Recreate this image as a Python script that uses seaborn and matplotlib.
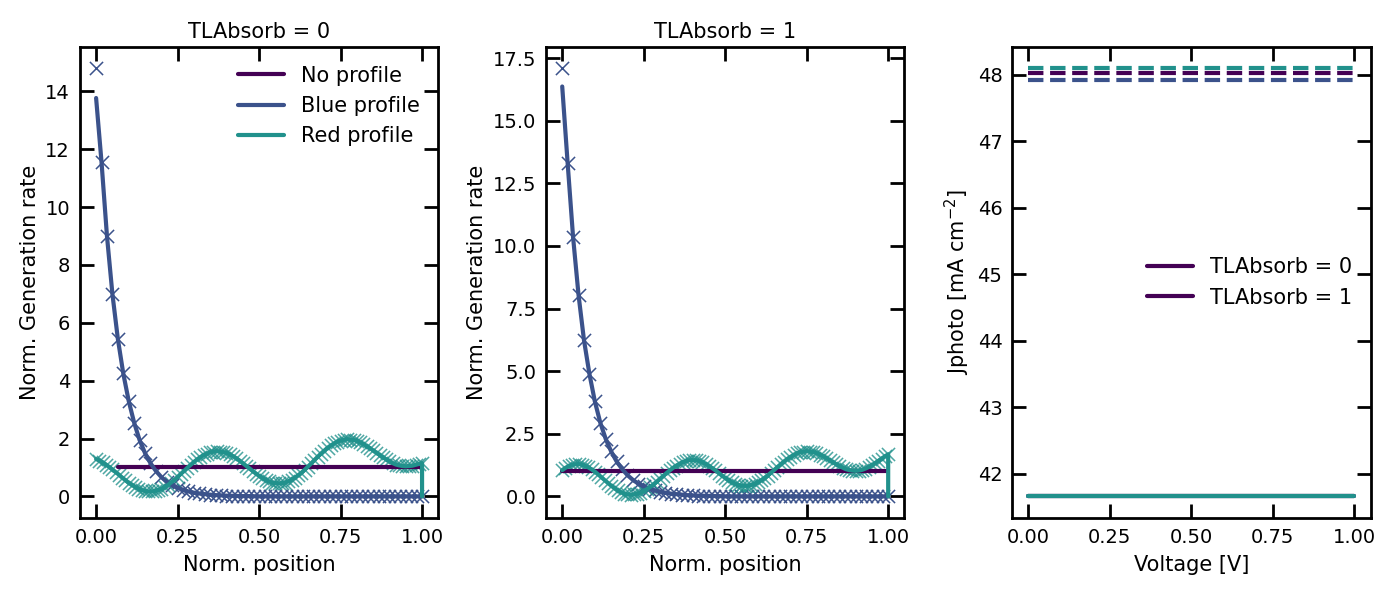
import numpy as np
import matplotlib.pyplot as plt
import seaborn as sns
from matplotlib.lines import Line2D

sns.set_style('ticks')
plt.rcParams['font.family'] = ['DejaVu Sans']
plt.rcParams['font.size'] = 14
for key in ['text.color', 'axes.labelcolor', 'xtick.color', 'ytick.color', 'axes.edgecolor']:
    plt.rcParams[key] = 'black'

colors = ['#440154', '#3b528b', '#21918c']
profile_names = ['No profile', 'Blue profile', 'Red profile']

# positions of the input profiles (uniform grids)
pos_blue = np.linspace(0, 1, 61)
pos_red = np.linspace(0, 1, 101)

# TLAbsorb = 0 : input blue profile (markers) and simulated profile (line)
blue_gen_0 = [14.8, 11.55, 9.0, 7.0, 5.45, 4.25, 3.3, 2.55, 1.95, 1.5,
              1.15, 0.88, 0.67, 0.51, 0.39, 0.3, 0.23, 0.17, 0.13, 0.1,
              0.08, 0.06, 0.045, 0.035, 0.025, 0.02, 0.015, 0.01, 0.01, 0.005,
              0.0, 0.0, 0.0, 0.0, 0.0, 0.0, 0.0, 0.0, 0.0, 0.0,
              0.0, 0.0, 0.0, 0.0, 0.0, 0.0, 0.0, 0.0, 0.0, 0.0,
              0.0, 0.0, 0.0, 0.0, 0.0, 0.0, 0.0, 0.0, 0.0, 0.0, 0.0]
blue_line_0 = [13.77, 11.55, 9.0, 7.0, 5.45, 4.25, 3.3, 2.55, 1.95, 1.5,
               1.15, 0.88, 0.67, 0.51, 0.39, 0.3, 0.23, 0.17, 0.13, 0.1,
               0.08, 0.06, 0.045, 0.035, 0.025, 0.02, 0.015, 0.01, 0.01, 0.005,
               0.0, 0.0, 0.0, 0.0, 0.0, 0.0, 0.0, 0.0, 0.0, 0.0,
               0.0, 0.0, 0.0, 0.0, 0.0, 0.0, 0.0, 0.0, 0.0, 0.0,
               0.0, 0.0, 0.0, 0.0, 0.0, 0.0, 0.0, 0.0, 0.0, 0.0, 0.0]
red_gen_0 = [1.29, 1.24, 1.18, 1.10, 1.02, 0.93, 0.84, 0.75, 0.65, 0.56,
             0.47, 0.40, 0.33, 0.27, 0.22, 0.19, 0.17, 0.17, 0.19, 0.22,
             0.26, 0.32, 0.39, 0.48, 0.57, 0.67, 0.78, 0.88, 0.99, 1.09,
             1.19, 1.28, 1.36, 1.43, 1.48, 1.52, 1.55, 1.56, 1.55, 1.53,
             1.50, 1.45, 1.39, 1.32, 1.24, 1.15, 1.06, 0.97, 0.88, 0.79,
             0.71, 0.64, 0.57, 0.52, 0.48, 0.46, 0.45, 0.46, 0.48, 0.52,
             0.58, 0.65, 0.73, 0.82, 0.92, 1.03, 1.14, 1.26, 1.37, 1.48,
             1.58, 1.68, 1.76, 1.83, 1.89, 1.93, 1.96, 1.97, 1.96, 1.95,
             1.91, 1.87, 1.81, 1.74, 1.67, 1.59, 1.51, 1.43, 1.35, 1.28,
             1.21, 1.15, 1.10, 1.07, 1.05, 1.04, 1.05, 1.06, 1.09, 1.12, 1.15]
no_x_0 = [0.067, 1.0]

# TLAbsorb = 1
blue_gen_1 = [17.1, 13.3, 10.35, 8.05, 6.25, 4.9, 3.8, 2.95, 2.3, 1.8,
              1.4, 1.1, 0.85, 0.66, 0.51, 0.4, 0.31, 0.24, 0.19, 0.15,
              0.11, 0.09, 0.07, 0.05, 0.04, 0.03, 0.025, 0.02, 0.015, 0.01,
              0.0, 0.0, 0.0, 0.0, 0.0, 0.0, 0.0, 0.0, 0.0, 0.0,
              0.0, 0.0, 0.0, 0.0, 0.0, 0.0, 0.0, 0.0, 0.0, 0.0,
              0.0, 0.0, 0.0, 0.0, 0.0, 0.0, 0.0, 0.0, 0.0, 0.0, 0.0]
blue_line_1 = [16.37, 13.3, 10.35, 8.05, 6.25, 4.9, 3.8, 2.95, 2.3, 1.8,
               1.4, 1.1, 0.85, 0.66, 0.51, 0.4, 0.31, 0.24, 0.19, 0.15,
               0.11, 0.09, 0.07, 0.05, 0.04, 0.03, 0.025, 0.02, 0.015, 0.01,
               0.0, 0.0, 0.0, 0.0, 0.0, 0.0, 0.0, 0.0, 0.0, 0.0,
               0.0, 0.0, 0.0, 0.0, 0.0, 0.0, 0.0, 0.0, 0.0, 0.0,
               0.0, 0.0, 0.0, 0.0, 0.0, 0.0, 0.0, 0.0, 0.0, 0.0, 0.0]
red_gen_1 = [1.05, 1.14, 1.21, 1.26, 1.28, 1.29, 1.27, 1.22, 1.16, 1.08,
             0.99, 0.88, 0.77, 0.65, 0.54, 0.43, 0.33, 0.24, 0.17, 0.11,
             0.08, 0.07, 0.08, 0.11, 0.15, 0.22, 0.29, 0.38, 0.48, 0.59,
             0.70, 0.82, 0.93, 1.04, 1.14, 1.23, 1.30, 1.37, 1.41, 1.44,
             1.45, 1.44, 1.41, 1.36, 1.30, 1.22, 1.13, 1.04, 0.94, 0.83,
             0.74, 0.65, 0.57, 0.51, 0.46, 0.43, 0.42, 0.43, 0.46, 0.50,
             0.57, 0.64, 0.73, 0.83, 0.94, 1.05, 1.17, 1.28, 1.39, 1.49,
             1.58, 1.65, 1.72, 1.76, 1.79, 1.80, 1.79, 1.77, 1.73, 1.67,
             1.61, 1.53, 1.45, 1.37, 1.29, 1.22, 1.15, 1.09, 1.05, 1.03,
             1.02, 1.03, 1.06, 1.11, 1.17, 1.25, 1.33, 1.42, 1.51, 1.60, 1.68]
no_x_1 = [0.0, 1.0]

# Jphoto vs voltage for each profile
voltage = [0.0, 1.0]
jphoto_tl0 = [41.66, 41.66, 41.66]
jphoto_tl1 = [48.03, 47.925, 48.1]

LABEL_FS = 15


def style_ax(ax):
    ax.tick_params(direction='in', length=10, width=2, pad=7, top=True, right=True, labelsize=14)
    for sp in ax.spines.values():
        sp.set_linewidth(2)
        sp.set_visible(True)


def profile_panel(ax, no_x, blue_pts, blue_line, red_pts, title):
    sns.scatterplot(x=pos_blue, y=blue_pts, marker='x', color=colors[1], s=90,
                    linewidth=1.1, ax=ax, zorder=2)
    sns.scatterplot(x=pos_red, y=red_pts, marker='x', color=colors[2], s=90,
                    linewidth=1.1, alpha=0.8, ax=ax, zorder=2)
    sns.lineplot(x=no_x, y=[1.0] * len(no_x), color=colors[0], lw=3, ax=ax,
                 label=profile_names[0], zorder=3)
    sns.lineplot(x=pos_blue, y=blue_line, color=colors[1], lw=3, ax=ax,
                 label=profile_names[1], zorder=3, estimator=None, sort=False)
    sns.lineplot(x=list(pos_red) + [1.0], y=red_pts + [0.0], color=colors[2], lw=3, ax=ax,
                 label=profile_names[2], zorder=3, estimator=None, sort=False)
    ax.set_title(title, fontsize=LABEL_FS)
    ax.set_xlabel('Norm. position', fontsize=LABEL_FS, labelpad=6)
    ax.set_ylabel('Norm. Generation rate', fontsize=LABEL_FS, labelpad=4)
    ax.set_xticks([0, 0.25, 0.5, 0.75, 1.0])
    style_ax(ax)


fig, axes = plt.subplots(1, 3, figsize=(14, 6))
fig.subplots_adjust(left=0.057, right=0.979, top=0.922, bottom=0.137, wspace=0.30)

profile_panel(axes[0], no_x_0, blue_gen_0, blue_line_0, red_gen_0, 'TLAbsorb = 0')
axes[0].legend(frameon=False, loc='upper right', fontsize=LABEL_FS, handlelength=2.2)
profile_panel(axes[1], no_x_1, blue_gen_1, blue_line_1, red_gen_1, 'TLAbsorb = 1')
axes[1].get_legend().remove()

ax = axes[2]
for c, j in zip(colors, jphoto_tl0):
    sns.lineplot(x=voltage, y=[j, j], color=c, lw=3, ax=ax)
for c, j in zip(colors, jphoto_tl1):
    sns.lineplot(x=voltage, y=[j, j], color=c, lw=3, ls='--', ax=ax)
ax.set_xlabel('Voltage [V]', fontsize=LABEL_FS, labelpad=6)
ax.set_ylabel('Jphoto [mA cm$^{-2}$]', fontsize=LABEL_FS, labelpad=4)
ax.set_xticks([0, 0.25, 0.5, 0.75, 1.0])
handles = [Line2D([], [], color=colors[0], lw=3), Line2D([], [], color=colors[0], lw=3)]
ax.legend(handles, ['TLAbsorb = 0', 'TLAbsorb = 1'], frameon=False, loc='center right',
          fontsize=LABEL_FS, handlelength=2.2)
style_ax(ax)

fig.savefig('out.png', dpi=100)
plt.close()
